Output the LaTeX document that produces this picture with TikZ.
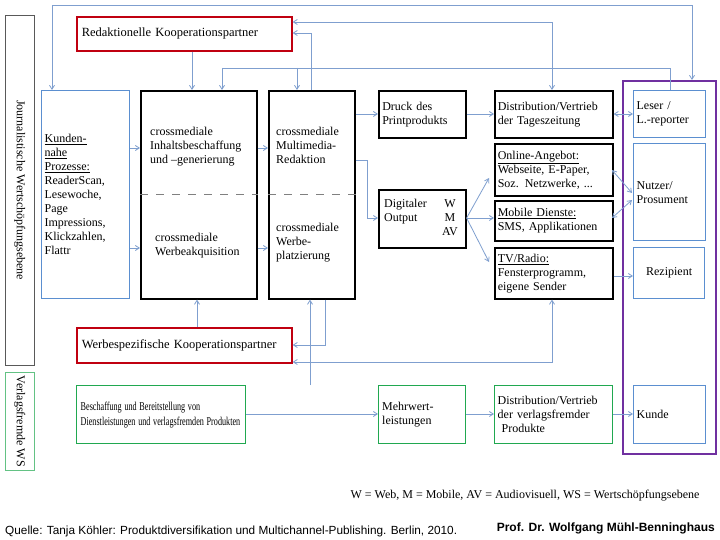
\documentclass[tikz,border=0pt]{standalone}
\usepackage{fontspec}
\usepackage{graphicx}
\setmainfont{Liberation Serif}
\newfontfamily\arialf{Liberation Sans}
\usetikzlibrary{arrows.meta}
\definecolor{lb}{HTML}{5B8FD0}
\definecolor{cn}{HTML}{7F9FCF}
\definecolor{rd}{HTML}{C00010}
\definecolor{gr}{HTML}{20A850}
\definecolor{pu}{HTML}{7030A0}
\begin{document}
\begin{tikzpicture}[x=1pt,y=-1pt,
  tf/.style={font=\fontsize{12}{14}\selectfont},
  bx/.style={draw,anchor=north west,inner sep=3pt,tf},
  blk/.style={bx,line width=1.6pt,draw=black},
  blu/.style={bx,line width=1.3pt,draw=lb},
  red/.style={bx,line width=1.6pt,draw=rd},
  grn/.style={bx,line width=1.4pt,draw=gr},
  cx/.style={draw=cn,line width=0.8pt},
  ar/.style={cx,-{Straight Barb[length=4pt,width=5pt]}},
  ab/.style={cx,{Straight Barb[length=4pt,width=5pt]}-{Straight Barb[length=4pt,width=5pt]}}]
\useasboundingbox (0,0) rectangle (720,540);
\fill[white] (0,0) rectangle (720,540);
% side labels
\node[bx,draw=gray!70!black,line width=0.6pt,minimum width=29pt,minimum height=350pt,inner sep=0pt] (jw) at (5,15) {};
\node[rotate=-90,font=\fontsize{12}{14}\selectfont] (jwt) at (jw.center) {Journalistische Wertschöpfungsebene};
\node[bx,draw=gr!70,line width=0.6pt,minimum width=29pt,minimum height=98pt,inner sep=0pt] (vw) at (5,372) {};
\node[rotate=-90,font=\fontsize{12}{14}\selectfont] (vwt) at (vw.center) {Verlagsfremde WS};
% purple
\node[bx,draw=pu,line width=1.6pt,minimum width=93pt,minimum height=373pt] (pur) at (622,80) {};
% boxes
\node[red,minimum width=215pt,minimum height=34pt,text width=205pt,align=left,inner sep=5pt,font=\fontsize{12.5}{14}\selectfont] (rk) at (76,16) {Redaktionelle Kooperationspartner};
\node[blu,minimum width=87pt,minimum height=208pt,text width=82pt,align=left] (kun) at (41,90) {\underline{Kunden-}\\\underline{nahe}\\\underline{Prozesse:}\\ReaderScan,\\Lesewoche,\\Page\\Impressions,\\Klickzahlen,\\Flattr};
\node[blk,minimum width=116pt,minimum height=208pt] (inh) at (140,90) {};
\node[tf,align=left,anchor=north west,inner sep=0pt] (inht) at (150,127) {crossmediale\\Inhaltsbeschaffung\\und –generierung};
\node[tf,align=left,anchor=north west,inner sep=0pt] (inhb) at (155,233) {crossmediale\\Werbeakquisition};
\node[blk,minimum width=86pt,minimum height=208pt] (mm) at (268,90) {};
\node[tf,align=left,anchor=north west,inner sep=0pt] (mmt) at (276,127) {crossmediale\\Multimedia-\\Redaktion};
\node[tf,align=left,anchor=north west,inner sep=0pt] (mmb) at (276,223) {crossmediale\\Werbe-\\platzierung};
\draw[gray,dash pattern=on 8pt off 8pt,line width=0.6pt] (inh.west |- 0,194) -- (inh.east |- 0,194);
\draw[gray,dash pattern=on 8pt off 8pt,line width=0.6pt] (mm.west |- 0,194) -- (mm.east |- 0,194);
\node[blk,minimum width=87pt,minimum height=47pt,text width=80pt,align=left] (dr) at (378,90) {Druck des\\Printprodukts};
\node[blk,minimum width=87pt,minimum height=58pt] (dig) at (378,189) {};
\node[tf,align=left,anchor=west,inner sep=0pt] (digt) at (384,212) {Digitaler\\Output};
\node[tf,align=center,anchor=center,inner sep=0pt] (digw) at (450,218) {W\\M\\AV};
\node[blk,minimum width=116pt,minimum height=47pt,text width=112pt,align=left] (dt) at (494,90) {Distribution/Vertrieb\\der Tageszeitung};
\node[blk,minimum width=116pt,minimum height=52pt,text width=112pt,align=left] (on) at (494,143) {\underline{Online-Angebot:}\\Webseite, E-Paper,\\Soz. Netzwerke, ...};
\node[blk,minimum width=116pt,minimum height=40pt,text width=112pt,align=left] (mo) at (494,200) {\underline{Mobile Dienste:}\\SMS, Applikationen};
\node[blk,minimum width=116pt,minimum height=51pt,text width=112pt,align=left] (tv) at (494,247) {\underline{TV/Radio:}\\Fensterprogramm,\\eigene Sender};
\node[blu,minimum width=71pt,minimum height=47pt,text width=66pt,align=left] (le) at (633,90) {Leser /\\L.-reporter};
\node[blu,minimum width=71pt,minimum height=97pt,text width=66pt,align=left] (nu) at (633,143) {Nutzer/\\Prosument};
\node[blu,minimum width=71pt,minimum height=51pt,align=center] (re) at (633,247) {Rezipient};
\node[red,minimum width=215pt,minimum height=35pt,text width=205pt,align=left,inner sep=5pt,font=\fontsize{12.5}{14}\selectfont] (wk) at (76,327) {Werbespezifische Kooperationspartner};
\node[grn,minimum width=169pt,minimum height=58pt,text width=161pt,align=left,inner sep=4pt,font=\fontsize{12}{15}\selectfont] (be) at (76,385) {\scalebox{0.68}[1]{Beschaffung und Bereitstellung von}\\\scalebox{0.68}[1]{Dienstleistungen und verlagsfremden Produkten}};
\node[grn,minimum width=87pt,minimum height=58pt,text width=80pt,align=left] (mw) at (378,385) {Mehrwert-\\leistungen};
\node[grn,minimum width=116pt,minimum height=58pt,text width=112pt,align=left] (dv) at (494,385) {Distribution/Vertrieb\\der verlagsfremder\\\ Produkte};
\node[blu,minimum width=71pt,minimum height=58pt,text width=66pt,align=left] (ku) at (633,385) {Kunde};
% texts
\node[anchor=east,font=\fontsize{12}{14}\selectfont] (leg) at (703,496) {W = Web, M = Mobile, AV = Audiovisuell, WS = Wertschöpfungsebene};
\node[anchor=west,font=\arialf\fontsize{11.8}{14}\selectfont,inner sep=0pt] (q) at (5,531) {Quelle: Tanja Köhler: Produktdiversifikation und Multichannel-Publishing. Berlin, 2010.};
\node[anchor=east,font=\arialf\bfseries\fontsize{12}{14}\selectfont,inner sep=0pt] (prof) at (715,528) {Prof. Dr. Wolfgang Mühl-Benninghaus};
% connectors
\draw[ab] (kun.north -| 52,0) -- (52,5) -- (692,5) -- (pur.north -| 692,0);
\draw[ab] (rk.east |- 0,22) -- (552,22) -- (dt.north -| 552,0);
\draw[ar] (mm.north -| 311,0) -- (311,33) -- (rk.east |- 0,33);
\draw[ar] (rk.south -| 192,0) -- (inh.north -| 192,0);
\draw[cx] (le.north -| 670,0) -- (670,68) -- (222,68);
\draw[ar] (222,68) -- (inh.north -| 222,0);
\draw[ar] (297,68) -- (mm.north -| 297,0);
\draw[ar] (kun.east |- 0,148) -- (inh.west |- 0,148);
\draw[ar] (kun.east |- 0,248) -- (inh.west |- 0,248);
\draw[ar] (inh.east |- 0,148) -- (mm.west |- 0,148);
\draw[ar] (inh.east |- 0,248) -- (mm.west |- 0,248);
\draw[ar] (mm.east |- 0,114) -- (dr.west |- 0,114);
\draw[ar] (mm.east |- 0,160) -- (367,160) -- (367,218) -- (dig.west |- 0,218);
\draw[ar] (dr.east |- 0,114) -- (dt.west |- 0,114);
\draw[ar] (dig.east |- 0,218) -- (489,178);
\draw[ar] (dig.east |- 0,218) -- (mo.west |- 0,218);
\draw[ar] (dig.east |- 0,218) -- (489,262);
\draw[ab] (dt.east |- 0,114) -- (le.west |- 0,114);
\draw[ab] (612,170) -- (632,193);
\draw[ab] (612,218) -- (632,200);
\draw[ar] (tv.east |- 0,276) -- (re.west |- 0,276);
\draw[ar] (wk.north -| 197,0) -- (inh.south -| 197,0);
\draw[ar] (be.north -| 310,0) -- (mm.south -| 310,0);
\draw[ar] (mm.south -| 325,0) -- (325,345) -- (wk.east |- 0,345);
\draw[ab] (tv.south -| 552,0) -- (552,362) -- (wk.east |- 0,362);
\draw[ar] (be.east |- 0,414) -- (mw.west |- 0,414);
\draw[ar] (mw.east |- 0,414) -- (dv.west |- 0,414);
\draw[ar] (dv.east |- 0,414) -- (ku.west |- 0,414);
\end{tikzpicture}
\end{document}
